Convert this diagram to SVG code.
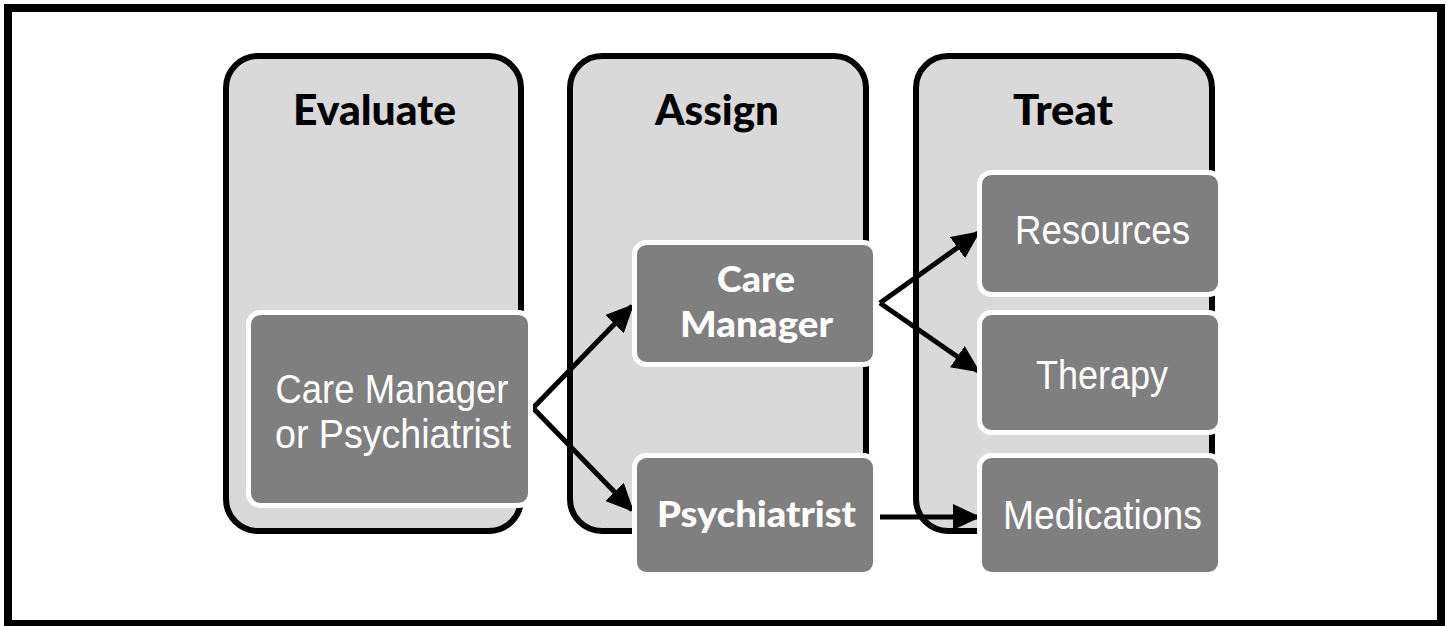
<svg xmlns="http://www.w3.org/2000/svg" width="1449" height="626" viewBox="0 0 1449 626">
<defs>
<style>
.frame{fill:#fff;stroke:#000;stroke-width:8}
.col{fill:#d9d9d9;stroke:#000;stroke-width:6}
.node{fill:#7f7f7f;stroke:#fff;stroke-width:5}
.hdr{font-family:Lato,"Open Sans","Liberation Sans",sans-serif;font-weight:900;font-size:42px;fill:#000;text-anchor:middle}
.bl{font-family:Lato,"Open Sans","Liberation Sans",sans-serif;font-weight:900;font-size:36px;fill:#fff;text-anchor:middle}
.nl{font-family:"Liberation Sans Narrow","Liberation Sans",Arial,sans-serif;font-size:41px;fill:#fff;text-anchor:middle}
.edge{fill:none;stroke:#000;stroke-width:5;marker-end:url(#ah)}
</style>
<marker id="ah" viewBox="0 0 10 10" refX="9" refY="5" markerUnits="userSpaceOnUse" markerWidth="28" markerHeight="26" preserveAspectRatio="none" orient="auto">
<path d="M0,0 L10,5 L0,10 Z" fill="#000"/>
</marker>
</defs>
<rect class="frame" x="8" y="8" width="1433" height="616"/>
<g id="col-evaluate">
<rect class="col" x="226" y="56" width="295" height="475" rx="32"/>
<text class="hdr" x="374.5" y="125" textLength="163" lengthAdjust="spacingAndGlyphs">Evaluate</text>
</g>
<g id="col-assign">
<rect class="col" x="570" y="56" width="296" height="475" rx="32"/>
<text class="hdr" x="717" y="125" textLength="124" lengthAdjust="spacingAndGlyphs">Assign</text>
</g>
<g id="col-treat">
<rect class="col" x="916" y="56" width="296" height="475" rx="32"/>
<text class="hdr" x="1063" y="125" textLength="100" lengthAdjust="spacingAndGlyphs">Treat</text>
</g>
<g id="connectors">
<polyline class="edge" points="533,408 632,306"/>
<polyline class="edge" points="533,408 632,510"/>
<polyline class="edge" points="880,303 978,233"/>
<polyline class="edge" points="880,303 978,371"/>
<polyline class="edge" points="880,517 978,517"/>
</g>
<g id="node-eval">
<rect class="node" x="248.5" y="312.5" width="282" height="193" rx="12"/>
<text class="nl" x="392" y="403" textLength="233" lengthAdjust="spacingAndGlyphs">Care Manager</text>
<text class="nl" x="393" y="448" textLength="236" lengthAdjust="spacingAndGlyphs">or Psychiatrist</text>
</g>
<g id="node-care-manager">
<rect class="node" x="634.5" y="242.5" width="241" height="122" rx="12"/>
<text class="bl" x="756" y="292" textLength="78" lengthAdjust="spacingAndGlyphs">Care</text>
<text class="bl" x="756.5" y="337" textLength="153" lengthAdjust="spacingAndGlyphs">Manager</text>
</g>
<g id="node-psychiatrist">
<rect class="node" x="634.5" y="455.5" width="241" height="119" rx="12"/>
<text class="bl" x="756.5" y="527" textLength="199" lengthAdjust="spacingAndGlyphs">Psychiatrist</text>
</g>
<g id="node-resources">
<rect class="node" x="979.5" y="172.5" width="241" height="122" rx="12"/>
<text class="nl" x="1102.5" y="244" textLength="175" lengthAdjust="spacingAndGlyphs">Resources</text>
</g>
<g id="node-therapy">
<rect class="node" x="979.5" y="312.5" width="241" height="120" rx="12"/>
<text class="nl" x="1102" y="389" textLength="132" lengthAdjust="spacingAndGlyphs">Therapy</text>
</g>
<g id="node-medications">
<rect class="node" x="979.5" y="455.5" width="241" height="119" rx="12"/>
<text class="nl" x="1102.5" y="529" textLength="199" lengthAdjust="spacingAndGlyphs">Medications</text>
</g>
</svg>
